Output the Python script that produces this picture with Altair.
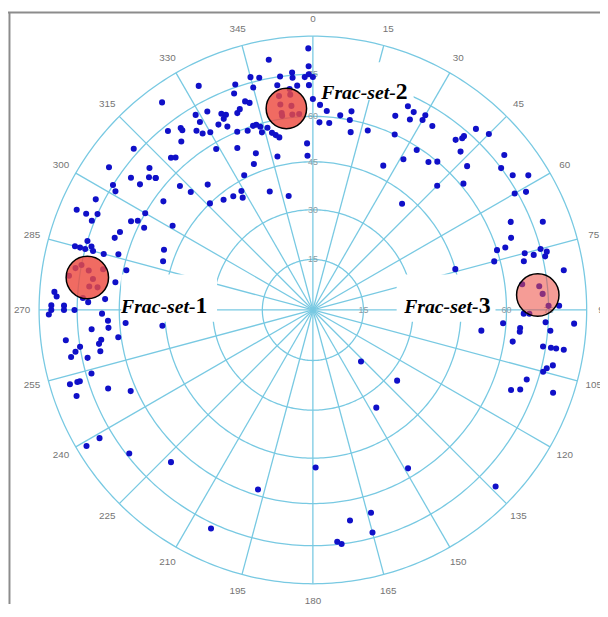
import altair as alt
import numpy as np
import pandas as pd

# ---- data: poles (azimuth in degrees clockwise from N, dip value 0 centre .. 90 rim)
AZIMUTH = [
    359, 350, 359, 345, 347, 352, 355, 355, 358, 359, 0, 333, 341, 345, 351, 354, 356, 359, 340, 324,
    342, 343, 0, 2, 332, 329, 335, 336, 339, 340, 329, 335, 333, 335, 343, 344, 321, 324, 324, 327,
    328, 330, 337, 340, 342, 344, 347, 348, 346, 349, 322, 329, 335, 340, 358, 317, 318, 347, 358, 338,
    311, 310, 333, 313, 320, 314, 329, 340, 306, 321, 325, 328, 348, 316, 351, 354, 351, 354, 351, 354,
    356, 351, 312, 305, 306, 306, 309, 310, 302, 301, 297, 293, 293, 294, 292, 300, 296, 297, 296, 301,
    292, 290, 287, 285, 285, 285, 286, 285, 285, 286, 292, 288, 282, 278, 280, 281, 280, 278, 281, 276,
    276, 278, 274, 273, 271, 271, 273, 272, 273, 270, 270, 270, 269, 269, 267, 266, 264, 265, 265, 262,
    263, 262, 261, 261, 259, 259, 260, 258, 254, 253, 253, 253, 249, 246, 250, 239, 239, 232, 223, 205,
    197, 179, 4, 2, 5, 8, 11, 11, 12, 17, 25, 23, 27, 27, 30, 30, 33, 25, 40, 41,
    41, 42, 45, 33, 43, 26, 31, 38, 40, 47, 45, 50, 40, 51, 53, 56, 58, 60, 61, 66,
    69, 70, 72, 72, 75, 75, 76, 75, 76, 77, 77, 81, 74, 83, 84, 86, 89, 89, 91, 91,
    93, 93, 94, 95, 96, 97, 95, 99, 99, 99, 99, 99, 103, 104, 105, 108, 112, 111, 109, 137,
    130, 147, 149, 134, 164, 165, 170, 174, 173,
]
DIP = [
    85, 82, 78, 77, 76, 75, 76, 74, 74, 75, 74, 81, 76, 73, 72, 70, 71, 71, 73, 83,
    69, 68, 66, 64, 71, 72, 68, 67, 66, 67, 69, 66, 65, 63, 60, 59, 73, 71, 70, 67,
    65, 64, 60, 59, 60, 57, 56, 55, 58, 54, 67, 58, 55, 51, 51, 65, 64, 48, 47, 48,
    68, 64, 46, 56, 50, 52, 42, 38, 57, 43, 42, 40, 35, 45, 68, 68, 65, 64, 62, 61,
    61, 61, 77, 80, 71, 67, 66, 64, 75, 73, 78, 83, 79, 75, 76, 60, 63, 61, 58, 50,
    65, 66, 75, 79, 77, 75, 73, 72, 68, 63, 49, 48, 59, 62, 77, 75, 72, 70, 67, 71,
    68, 79, 84, 83, 85, 80, 73, 71, 65, 85, 80, 76, 86, 66, 64, 58, 46, 70, 64, 61,
    80, 67, 68, 75, 68, 79, 77, 73, 73, 82, 79, 78, 69, 62, 81, 80, 86, 74, 65, 77,
    58, 48, 62, 58, 58, 61, 60, 63, 56, 58, 71, 66, 67, 70, 69, 71, 69, 60, 70, 72,
    73, 78, 80, 59, 68, 49, 54, 58, 60, 66, 54, 61, 42, 79, 75, 77, 82, 74, 78, 68,
    79, 66, 60, 63, 58, 69, 72, 75, 77, 76, 68, 82, 45, 66, 72, 73, 75, 79, 66, 68,
    74, 85, 59, 65, 65, 52, 76, 63, 74, 77, 79, 82, 79, 77, 76, 71, 67, 70, 82, 21,
    33, 35, 57, 82, 66, 73, 67, 74, 75,
]

RING_VALUES = [15, 30, 45, 60, 75, 90]
SPOKE_ANGLES = list(range(0, 360, 15))
# dip labels visible along the 0 and 90 directions
DIPLAB_AZ = [0, 0, 0, 0, 0, 90, 90, 90]
DIPLAB_VAL = [15, 30, 45, 60, 75, 15, 60, 75]

# fracture-set clusters (mean pole and highlighted circle)
SET_NAMES = ["Frac-set-", "Frac-set-", "Frac-set-"]
SET_DIGITS = ["1", "2", "3"]
SET_AZ = [278.2, 352.5, 86.2]
SET_DIP = [72.1, 63.3, 71.2]
SET_DIAM = [43, 41, 43]
SET_ALPHA = [0.82, 0.82, 0.55]

# label anchors and white label boxes, in net coordinates (rim radius = 1)
LAB_X = [-0.4288, 0.3027, 0.6054]
LAB_Y = [-0.0108, 0.7694, -0.0108]
BOX_X1 = [-0.700, 0.018, 0.306]
BOX_X2 = [-0.350, 0.368, 0.667]
BOX_Y1 = [-0.043, 0.768, -0.043]
BOX_Y2 = [0.130, 0.905, 0.130]


def proj(az, dip):
    """Equal-area projection of (azimuth, dip) onto a unit net."""
    az = np.radians(np.asarray(az, dtype=float))
    r = np.sqrt(2) * np.sin(np.radians(np.asarray(dip, dtype=float)) / 2)
    return r * np.sin(az), r * np.cos(az)


# ---- layout
W, H = 600, 600
RPX = 277.5          # rim radius in pixels
CXP, CYP = 309, 302  # net centre inside plot area
XD = [-CXP / RPX, (W - CXP) / RPX]
YD = [-(H - CYP) / RPX, CYP / RPX]
xs = alt.Scale(domain=XD, nice=False, zero=False)
ys = alt.Scale(domain=YD, nice=False, zero=False)


def X(f):
    return alt.X(f, type="quantitative", scale=xs, axis=None)


def Y(f):
    return alt.Y(f, type="quantitative", scale=ys, axis=None)


GRID = "#78c9e2"

# rings
th = np.arange(0, 361, 1.0)
rows = []
for v in RING_VALUES:
    ex, ny = proj(th, np.full_like(th, v))
    for i, (a, b) in enumerate(zip(ex, ny)):
        rows.append({"ring": v, "o": i, "x": a, "y": b})
rings = alt.Chart(pd.DataFrame(rows)).mark_line(color=GRID, strokeWidth=1.3).encode(
    x=X("x"), y=Y("y"), detail="ring:N", order="o:Q")

sx, sy = proj(SPOKE_ANGLES, [90] * len(SPOKE_ANGLES))
spokes = alt.Chart(pd.DataFrame({"x": 0.0, "y": 0.0, "x2": sx, "y2": sy})).mark_rule(
    color=GRID, strokeWidth=1.3).encode(x=X("x"), y=Y("y"), x2="x2", y2="y2")

# dip labels
dx_, dy_ = proj(DIPLAB_AZ, DIPLAB_VAL)
diplabels = alt.Chart(pd.DataFrame({"x": dx_, "y": dy_, "t": [str(v) for v in DIPLAB_VAL]})).mark_text(
    fontSize=9, color="#8a9ba3", font="Liberation Sans", baseline="middle", align="center").encode(
    x=X("x"), y=Y("y"), text="t:N")

# azimuth labels
ax_, ay_ = proj(SPOKE_ANGLES, [90] * len(SPOKE_ANGLES))
anglabels = alt.Chart(pd.DataFrame({"x": ax_ * 1.062, "y": ay_ * 1.062,
                                     "t": [str(a) for a in SPOKE_ANGLES]})).mark_text(
    fontSize=10, color="#747474", font="Liberation Sans", baseline="middle", align="center").encode(
    x=X("x"), y=Y("y"), text="t:N")

boxes = alt.Chart(pd.DataFrame({"x": BOX_X1, "x2": BOX_X2, "y": BOX_Y1, "y2": BOX_Y2})).mark_rect(
    fill="white").encode(x=X("x"), x2="x2", y=Y("y"), y2="y2")

px_, py_ = proj(AZIMUTH, DIP)
points = alt.Chart(pd.DataFrame({"x": px_, "y": py_})).mark_circle(
    size=38, color="#1010c8", opacity=1).encode(x=X("x"), y=Y("y"))

cx_, cy_ = proj(SET_AZ, SET_DIP)
circles = alt.Chart(pd.DataFrame({"x": cx_, "y": cy_, "s": np.array(SET_DIAM) ** 2,
                                   "a": SET_ALPHA})).mark_circle(
    fill="#ed4a40", stroke="black", strokeWidth=1.5, strokeOpacity=1, opacity=1).encode(
    x=X("x"), y=Y("y"), size=alt.Size("s:Q", scale=None),
    fillOpacity=alt.FillOpacity("a:Q", scale=None))

labdf = pd.DataFrame({"x": LAB_X, "y": LAB_Y, "t": SET_NAMES, "d": SET_DIGITS})
names = alt.Chart(labdf).mark_text(font="Liberation Serif", fontStyle="italic", fontWeight="bold",
                                   fontSize=20, align="right", baseline="alphabetic",
                                   color="black").encode(x=X("x"), y=Y("y"), text="t:N")
digits = alt.Chart(labdf).mark_text(font="Liberation Serif", fontWeight="bold",
                                    fontSize=24, align="left", baseline="alphabetic",
                                    color="black").encode(x=X("x"), y=Y("y"), text="d:N")

frame_l = alt.Chart(pd.DataFrame({"a": [0]})).mark_rule(color="#8c8c8c", strokeWidth=2).encode(
    x=alt.value(1.5), y=alt.value(0), y2=alt.value(H))
frame_t = alt.Chart(pd.DataFrame({"a": [0]})).mark_rule(color="#8c8c8c", strokeWidth=2).encode(
    y=alt.value(0.5), x=alt.value(0), x2=alt.value(W))

chart = alt.layer(rings, spokes, diplabels, anglabels, boxes, points, circles, names, digits,
                  frame_l, frame_t).properties(
    width=W, height=H, padding=0,
    autosize=alt.AutoSizeParams(type="none")).configure_view(stroke=None)

chart.save("out.html", embed_options={"renderer": "svg", "actions": False})
